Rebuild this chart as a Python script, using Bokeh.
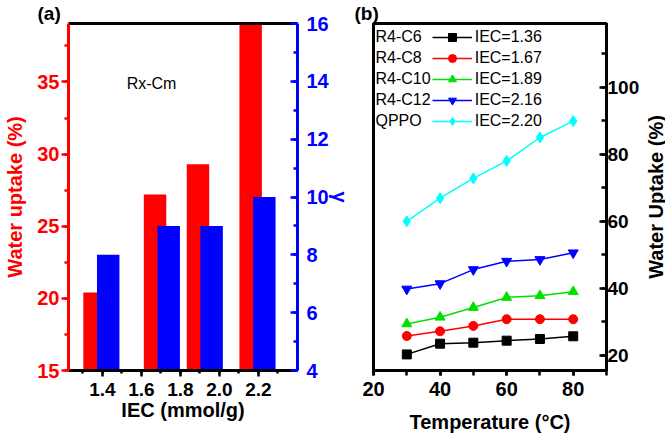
import math
from bokeh.plotting import figure
from bokeh.layouts import row
from bokeh.models import (ColumnDataSource, Range1d, LinearAxis, SingleIntervalTicker,
                          FixedTicker, Label, Legend, LegendItem, PrintfTickFormatter)
from bokeh.transform import dodge
from bokeh.embed import file_html
from bokeh.resources import INLINE

FONT = "Liberation Sans"

# ---------------- data: panel (a) ----------------
iec_a = [1.36, 1.67, 1.89, 2.16]
water_uptake_a = [20.4, 27.2, 29.3, 40.5]
gamma_a = [8, 9, 9, 10]

# ---------------- data: panel (b) ----------------
temperature = [30, 40, 50, 60, 70, 80]
wu_r4c6 = [20.3, 23.5, 23.8, 24.4, 24.9, 25.7]
wu_r4c8 = [25.8, 27.2, 28.8, 30.8, 30.8, 30.8]
wu_r4c10 = [29.4, 31.4, 34.3, 37.3, 37.8, 39.0]
wu_r4c12 = [39.8, 41.4, 45.6, 48.1, 48.6, 50.6]
wu_qppo = [60.0, 66.9, 72.8, 78.0, 85.0, 89.9]
series_names = ["R4-C6", "R4-C8", "R4-C10", "R4-C12", "QPPO"]
series_iec = ["IEC=1.36", "IEC=1.67", "IEC=1.89", "IEC=2.16", "IEC=2.20"]
series_values = [wu_r4c6, wu_r4c8, wu_r4c10, wu_r4c12, wu_qppo]

# styles
series_colors = ["#000000", "#ff0000", "#00e000", "#0000ff", "#00ffff"]
series_markers = ["square", "circle", "triangle", "inverted_triangle", "diamond"]
series_sizes = [9, 9, 10, 10, 11]


def style_axis(ax, color, label_size="20px"):
    ax.axis_line_color = color
    ax.axis_line_width = 3
    ax.major_tick_line_color = color
    ax.minor_tick_line_color = color
    ax.major_tick_line_width = 2.5
    ax.minor_tick_line_width = 2.5
    ax.major_label_text_color = color
    ax.major_label_text_font = FONT
    ax.major_label_text_font_style = "bold"
    ax.major_label_text_font_size = label_size
    ax.axis_label_text_color = color
    ax.axis_label_text_font = FONT
    ax.axis_label_text_font_style = "bold"
    ax.axis_label_text_font_size = "20px"


def style_title(p, text, offset):
    p.title.text = text
    p.title.align = "left"
    p.title.offset = offset
    p.title.standoff = 0
    p.title.text_font = FONT
    p.title.text_font_style = "bold"
    p.title.text_font_size = "19px"
    p.title.text_color = "#000000"


def clean(p):
    p.grid.visible = False
    p.background_fill_color = "white"
    p.border_fill_color = "white"


# ================= panel (a) =================
pa = figure(width=353, height=437, x_range=Range1d(1.2265, 2.4), y_range=Range1d(15, 39.05),
            output_backend="svg", toolbar_location=None,
            min_border_left=68, min_border_right=51, min_border_top=21, min_border_bottom=66,
            x_axis_label="IEC (mmol/g)", y_axis_label="Water uptake (%)")
pa.extra_y_ranges = {"gamma": Range1d(4, 16)}
clean(pa)
pa.outline_line_color = None
style_title(pa, "(a)", -31)

src_a = ColumnDataSource(dict(iec=iec_a, wu=water_uptake_a, gamma=gamma_a))
pa.vbar(x="iec", top="wu", bottom=pa.y_range.start, width=0.115, source=src_a,
        fill_color="#ff0000", line_color=None)
pa.vbar(x=dodge("iec", 0.07, range=pa.x_range), top="gamma", bottom=pa.extra_y_ranges["gamma"].start,
        width=0.115, source=src_a, y_range_name="gamma", fill_color="#0000ff", line_color=None)

xa = pa.xaxis[0]
xa.ticker = SingleIntervalTicker(interval=0.2, num_minor_ticks=2)
xa.formatter = PrintfTickFormatter(format="%.1f")
style_axis(xa, "#000000", "19px")
xa.major_tick_out = 6
xa.major_tick_in = 0
xa.minor_tick_out = 3
xa.minor_tick_in = 0
xa.major_label_standoff = 6
xa.axis_label_standoff = 0

ya = pa.yaxis[0]
ya.ticker = SingleIntervalTicker(interval=5, num_minor_ticks=2)
style_axis(ya, "#ff0000")
ya.major_tick_out = 7
ya.major_tick_in = 0
ya.minor_tick_out = 4
ya.minor_tick_in = 0
ya.major_label_standoff = 2
ya.axis_label_standoff = 8

ra = LinearAxis(y_range_name="gamma", ticker=SingleIntervalTicker(interval=2, num_minor_ticks=2),
                axis_label="γ")
style_axis(ra, "#0000ff")
ra.major_tick_in = 7
ra.major_tick_out = 0
ra.minor_tick_in = 4
ra.minor_tick_out = 0
ra.major_label_standoff = 9
ra.axis_label_standoff = -3
pa.add_layout(ra, "right")

ta = LinearAxis(ticker=FixedTicker(ticks=[]))
ta.axis_line_width = 3
ta.axis_line_color = "#000000"
ta.major_tick_in = 0
ta.major_tick_out = 0
ta.minor_tick_in = 0
ta.minor_tick_out = 0
pa.add_layout(ta, "above")

pa.add_layout(Label(x=1.652, y=34.86, text="Rx-Cm", text_align="center", text_baseline="middle",
                    text_font=FONT, text_font_size="16px", text_color="#000000"))

# ================= panel (b) =================
pb = figure(width=289, height=437, x_range=Range1d(20, 90), y_range=Range1d(15.5, 119),
            output_backend="svg", toolbar_location=None, y_axis_location="right",
            min_border_left=20, min_border_right=33, min_border_top=21, min_border_bottom=67,
            x_axis_label="Temperature (°C)")
clean(pb)
pb.outline_line_color = "#000000"
pb.outline_line_width = 3
style_title(pb, "(b)", -19)

name_items = []
iec_items = []
for name, iec_lbl, vals, col, mk, sz in zip(series_names, series_iec, series_values,
                                           series_colors, series_markers, series_sizes):
    src = ColumnDataSource(dict(t=temperature, wu=vals))
    lr = pb.line("t", "wu", source=src, line_color=col, line_width=1.5)
    sr = pb.scatter("t", "wu", source=src, marker=mk, size=sz, fill_color=col, line_color=col)
    hidden = pb.line("t", "wu", source=src, line_alpha=0)
    iec_items.append(LegendItem(label=iec_lbl, renderers=[lr, sr]))
    name_items.append(LegendItem(label=name, renderers=[hidden]))

xb = pb.xaxis[0]
xb.ticker = SingleIntervalTicker(interval=20, num_minor_ticks=2)
style_axis(xb, "#000000")
xb.major_tick_out = 5
xb.major_tick_in = 0
xb.minor_tick_out = 5
xb.minor_tick_in = 0
xb.major_label_standoff = 6
xb.axis_label_standoff = 12

yb = pb.yaxis[0]
yb.ticker = SingleIntervalTicker(interval=20, num_minor_ticks=2)
style_axis(yb, "#000000", "19px")
yb.major_tick_in = 7
yb.major_tick_out = 0
yb.minor_tick_in = 5
yb.minor_tick_out = 0
yb.major_label_standoff = 1


def make_legend(items, loc, gw, standoff):
    lg = Legend(items=items, location=loc, glyph_width=gw, glyph_height=20, label_height=20,
                spacing=1, padding=2, margin=0, label_standoff=standoff,
                label_text_font=FONT, label_text_font_size="16px", label_text_color="#000000",
                border_line_color=None, background_fill_alpha=0)
    return lg


pb.add_layout(make_legend(name_items, (1.5, 239), 1, 0))
pb.add_layout(make_legend(iec_items, (58.7, 239), 40, 3))

# ---- strip holding the (b) y-axis title, reading bottom-to-top like the reference ----
pc = figure(width=23, height=437, x_range=Range1d(0, 1), y_range=pb.y_range,
            output_backend="svg", toolbar_location=None,
            x_axis_location=None, y_axis_location=None,
            min_border_left=22, min_border_right=0, min_border_top=21, min_border_bottom=67)
clean(pc)
pc.outline_line_color = None
tc = LinearAxis(ticker=FixedTicker(ticks=[]), axis_label="Water Uptake (%)")
style_axis(tc, "#000000")
tc.axis_line_color = None
tc.major_tick_in = 0
tc.major_tick_out = 0
tc.minor_tick_in = 0
tc.minor_tick_out = 0
tc.axis_label_standoff = -1
pc.add_layout(tc, "left")

layout = row(pa, pb, pc)
open("out.html", "w").write(file_html(layout, INLINE))
